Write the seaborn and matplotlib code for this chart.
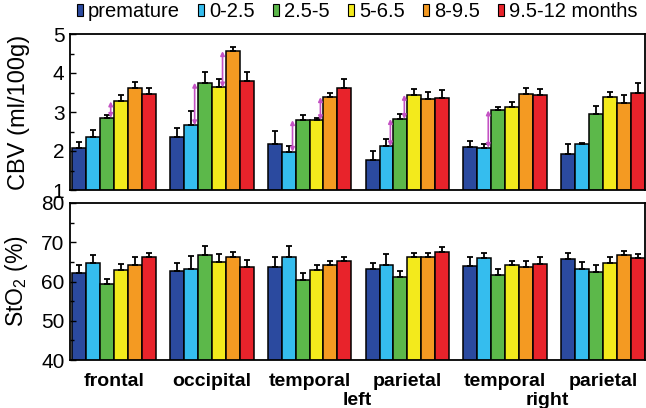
import numpy as np
import pandas as pd
import matplotlib
matplotlib.use("Agg")
import matplotlib.pyplot as plt
import matplotlib.transforms as mtransforms
from matplotlib.patches import Patch
from matplotlib.ticker import MultipleLocator
import seaborn as sns

# regions (left/right hemispheres share names on the axis)
region_keys = ["frontal", "occipital", "temporal L", "parietal L", "temporal R", "parietal R"]
region_labels = ["frontal", "occipital", "temporal", "parietal", "temporal", "parietal"]
ages = ["premature", "0-2.5", "2.5-5", "5-6.5", "8-9.5", "9.5-12 months"]
colors = ["#2b4a9f", "#35bdee", "#5cb84a", "#f3ea1c", "#f49a22", "#e8232b"]

# CBV (ml/100g): one row per region, one value per age group
cbv_mean = [
    [2.07, 2.35, 2.85, 3.27, 3.62, 3.47],
    [2.36, 2.66, 3.75, 3.63, 4.56, 3.80],
    [2.18, 1.98, 2.79, 2.79, 3.38, 3.61],
    [1.76, 2.12, 2.82, 3.44, 3.33, 3.35],
    [2.09, 2.08, 3.04, 3.12, 3.47, 3.44],
    [1.92, 2.18, 2.94, 3.38, 3.22, 3.50],
]
cbv_sd = [
    [0.15, 0.19, 0.07, 0.16, 0.16, 0.15],
    [0.22, 0.37, 0.27, 0.21, 0.10, 0.22],
    [0.34, 0.15, 0.13, 0.06, 0.12, 0.23],
    [0.24, 0.19, 0.13, 0.15, 0.19, 0.21],
    [0.17, 0.11, 0.10, 0.13, 0.15, 0.15],
    [0.27, 0.03, 0.21, 0.13, 0.22, 0.25],
]

# StO2 (%)
sto2_mean = [
    [62.1, 64.6, 59.3, 62.9, 64.3, 66.3],
    [62.7, 63.2, 66.8, 65.0, 66.3, 63.8],
    [63.8, 66.2, 60.4, 62.9, 64.1, 65.1],
    [63.2, 64.3, 61.2, 66.2, 66.2, 67.6],
    [63.9, 66.0, 61.6, 64.1, 63.7, 64.4],
    [65.7, 63.2, 62.3, 64.6, 66.8, 66.0],
]
sto2_sd = [
    [2.1, 2.2, 1.3, 1.5, 1.9, 1.0],
    [1.9, 3.4, 2.2, 2.0, 1.3, 1.7],
    [2.5, 2.8, 1.7, 1.3, 1.1, 1.2],
    [1.4, 2.7, 1.6, 1.1, 1.1, 1.1],
    [2.4, 1.3, 1.6, 1.2, 1.5, 1.8],
    [1.6, 1.8, 1.9, 1.6, 0.9, 1.0],
]

# significant CBV jumps: (region index, age index k) -> between k and k+1
sig_pairs = [(0, 2), (1, 1), (1, 3), (2, 1), (2, 3), (3, 1), (3, 2), (4, 1)]

plt.rcParams["font.family"] = ["Liberation Sans", "DejaVu Sans"]

rows = []
for i, reg in enumerate(region_keys):
    for j, age in enumerate(ages):
        rows.append({"region": reg, "age": age,
                     "cbv": cbv_mean[i][j], "sto2": sto2_mean[i][j]})
df = pd.DataFrame(rows)

fig = plt.figure(figsize=(6.46, 4.08), dpi=100)
ax1 = fig.add_axes([70 / 646, 1 - 190 / 408, 575 / 646, 156 / 408])
ax2 = fig.add_axes([70 / 646, 1 - 360 / 408, 575 / 646, 157 / 408])

bar_w = 0.855
bars = {}
for ax, col, sd in ((ax1, "cbv", cbv_sd), (ax2, "sto2", sto2_sd)):
    sns.barplot(data=df, x="region", y=col, hue="age", order=region_keys,
                hue_order=ages, palette=colors, saturation=1, width=bar_w,
                gap=0, edgecolor="black", linewidth=1.1, errorbar=None,
                legend=False, ax=ax)
    conts = list(ax.containers)
    bars[col] = conts
    for j, cont in enumerate(conts):
        xs = [b.get_x() + b.get_width() / 2 for b in cont]
        ys = [b.get_height() for b in cont]
        e = [sd[i][j] for i in range(len(region_keys))]
        ax.errorbar(xs, ys, yerr=[np.zeros(len(e)), e], fmt="none",
                    ecolor="black", elinewidth=1.3, capsize=2, capthick=1.3)
    ax.set_xlim(-bar_w / 2 - 0.02, len(region_keys) - 1 + bar_w / 2)
    ax.set_xlabel("")
    ax.tick_params(axis="y", which="major", direction="in", length=4,
                   width=1, labelsize=15, pad=4)
    ax.tick_params(axis="y", which="minor", direction="in", length=3, width=1)
    ax.tick_params(axis="x", length=0)
    for s in ax.spines.values():
        s.set_linewidth(1.3)
        s.set_color("black")

ax1.set_ylim(1, 5)
ax1.yaxis.set_major_locator(MultipleLocator(1))
ax1.yaxis.set_minor_locator(MultipleLocator(0.5))
ax1.set_xticklabels([])
ax1.set_ylabel("CBV (ml/100g)", fontsize=17)
ax1.yaxis.set_label_coords(-0.07, 0.5)

ax2.set_ylim(40, 80)
ax2.yaxis.set_major_locator(MultipleLocator(10))
ax2.yaxis.set_minor_locator(MultipleLocator(5))
ax2.set_xticks(range(len(region_keys)))
ax2.set_xticklabels(region_labels, fontsize=14, fontweight="bold")
ax2.tick_params(axis="x", pad=9)
ax2.set_ylabel(r"StO$_\mathregular{2}$ (%)", fontsize=16.5)
ax2.yaxis.set_label_coords(-0.07, 0.5)

trans = mtransforms.blended_transform_factory(ax2.transData, ax2.transAxes)
ax2.text(2.49, -0.255, "left", transform=trans, ha="center", va="center",
         fontsize=14, fontweight="bold")
ax2.text(4.43, -0.255, "right", transform=trans, ha="center", va="center",
         fontsize=14, fontweight="bold")

for i, k in sig_pairs:
    bar = bars["cbv"][k][i]
    x = bar.get_x() + bar.get_width() * 0.78
    ax1.annotate("", xy=(x, cbv_mean[i][k + 1]), xytext=(x, cbv_mean[i][k]),
                 arrowprops=dict(arrowstyle="<|-|>", color="#c452c4", lw=1.2,
                                 mutation_scale=6, shrinkA=0, shrinkB=0))

handles = [Patch(facecolor=c, edgecolor="black", linewidth=0.8, label=a)
           for c, a in zip(colors, ages)]
fig.legend(handles=handles, loc="upper left", bbox_to_anchor=(77 / 646, 1 - 2 / 408),
           ncol=6, frameon=False, fontsize=14.5, handlelength=0.3,
           handleheight=0.5, handletextpad=0.25, columnspacing=0.9,
           borderaxespad=0, borderpad=0)

fig.savefig("out.png", dpi=100)
